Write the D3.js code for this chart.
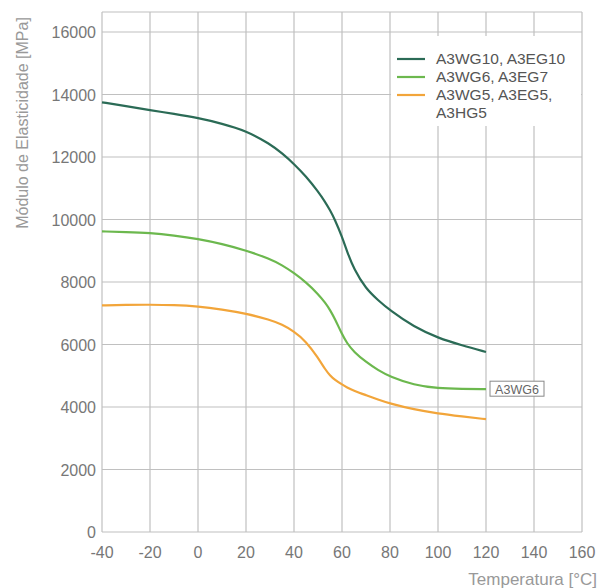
<!DOCTYPE html>
<meta charset="utf-8">
<script src="https://d3js.org/d3.v7.min.js"></script>
<style>
body { margin: 0; background: #fff; }
text { font-family: "Liberation Sans", Arial, sans-serif; }
</style>
<body>
<script>
var width = 597, height = 588;

// temperatures sampled along the curves
var temps = [-40, -30, -20, -10, 0, 10, 20, 30, 35, 40, 45, 50, 53, 55, 57, 60, 62, 65, 70, 75, 80, 90, 100, 110, 120];

var wg10 = [13750, 13630, 13500, 13380, 13250, 13070, 12840, 12420, 12120, 11780, 11380, 10900, 10560, 10300, 10000, 9450, 9000, 8400, 7780, 7420, 7090, 6560, 6210, 5970, 5760];
var wg6  = [9620, 9600, 9570, 9490, 9380, 9220, 9010, 8740, 8540, 8290, 7990, 7620, 7340, 7110, 6830, 6330, 6050, 5760, 5440, 5180, 4970, 4700, 4595, 4580, 4570];
var wg5  = [7250, 7270, 7275, 7265, 7220, 7120, 6990, 6790, 6640, 6420, 6100, 5580, 5200, 5010, 4870, 4720, 4630, 4520, 4380, 4240, 4110, 3920, 3790, 3700, 3610];

var seriesNames = ["A3WG10, A3EG10", "A3WG6, A3EG7", "A3WG5, A3EG5,"];
var xTicks = [-40, -20, 0, 20, 40, 60, 80, 100, 120, 140, 160];
var yTicks = [0, 2000, 4000, 6000, 8000, 10000, 12000, 14000, 16000];
var colors = ["#2b6b56", "#6cb84e", "#f2a53a"];

var svg = d3.select("body").append("svg")
    .attr("width", width)
    .attr("height", height);

var x = d3.scaleLinear().domain([-40, 160]).range([102, 582]);
var y = d3.scaleLinear().domain([0, 16640]).range([532, 12]);

// grid
svg.selectAll(".vg").data(xTicks).enter().append("line")
    .attr("x1", function(d) { return x(d); })
    .attr("x2", function(d) { return x(d); })
    .attr("y1", y(0)).attr("y2", y(16640))
    .attr("stroke", "#c0c0c0").attr("stroke-width", 1.2);

svg.selectAll(".hg").data(yTicks.concat([16640])).enter().append("line")
    .attr("x1", x(-40)).attr("x2", x(160))
    .attr("y1", function(d) { return y(d); })
    .attr("y2", function(d) { return y(d); })
    .attr("stroke", "#c0c0c0").attr("stroke-width", 1.2);

// tick labels
svg.selectAll(".yl").data(yTicks).enter().append("text")
    .attr("x", 96)
    .attr("y", function(d) { return y(d) + 6; })
    .attr("text-anchor", "end")
    .style("font-size", "16px")
    .style("fill", "#777")
    .text(function(d) { return d; });

svg.selectAll(".xl").data(xTicks).enter().append("text")
    .attr("x", function(d) { return x(d); })
    .attr("y", 558)
    .attr("text-anchor", "middle")
    .style("font-size", "16px")
    .style("fill", "#777")
    .text(function(d) { return d; });

// axis titles
svg.append("text")
    .attr("transform", "translate(28,123) rotate(-90)")
    .attr("text-anchor", "middle")
    .style("font-size", "16px")
    .style("fill", "#999")
    .text("Módulo de Elasticidade [MPa]");

svg.append("text")
    .attr("x", 597)
    .attr("y", 585)
    .attr("text-anchor", "end")
    .style("font-size", "17px")
    .style("fill", "#999")
    .text("Temperatura [°C]");

// curves
var line = d3.line()
    .x(function(d, i) { return x(temps[i]); })
    .y(function(d) { return y(d); })
    .curve(d3.curveBasis);

[wg10, wg6, wg5].forEach(function(s, i) {
  svg.append("path")
      .attr("d", line(s))
      .attr("fill", "none")
      .attr("stroke", colors[i])
      .attr("stroke-width", 2.2);
});

// legend
svg.append("rect")
    .attr("x", 391).attr("y", 36)
    .attr("width", 190).attr("height", 90)
    .attr("fill", "#fff");

var legend = svg.selectAll(".legend").data(seriesNames).enter().append("g")
    .attr("transform", function(d, i) { return "translate(0," + (59 + i * 18) + ")"; });

legend.append("line")
    .attr("x1", 397).attr("x2", 425)
    .attr("stroke", function(d, i) { return colors[i]; })
    .attr("stroke-width", 2.2);

legend.append("text")
    .attr("x", 436).attr("y", 5)
    .style("font-size", "15.5px")
    .style("fill", "#555")
    .text(function(d) { return d; });

svg.append("text")
    .attr("x", 436).attr("y", 118)
    .style("font-size", "15.5px")
    .style("fill", "#555")
    .text("A3HG5");

// A3WG6 note at the end of the middle curve
svg.append("rect")
    .attr("x", 490).attr("y", y(wg6[wg6.length - 1]) - 8)
    .attr("width", 54).attr("height", 15)
    .attr("fill", "#fff")
    .attr("stroke", "#888");

svg.append("text")
    .attr("x", 517).attr("y", y(wg6[wg6.length - 1]) + 4.5)
    .attr("text-anchor", "middle")
    .style("font-size", "12.5px")
    .style("fill", "#666")
    .text("A3WG6");
</script>
</body>
